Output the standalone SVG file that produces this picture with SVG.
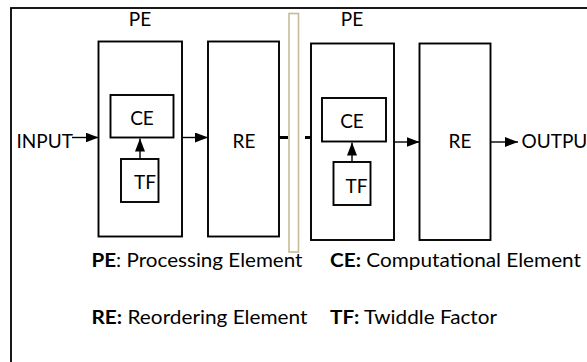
<svg xmlns="http://www.w3.org/2000/svg" width="587" height="362" viewBox="0 0 587 362">
<defs>
<marker id="ah" markerUnits="userSpaceOnUse" markerWidth="13" markerHeight="10" refX="13" refY="5" orient="auto">
<path d="M0,0 L13,5 L0,10 z" fill="#000"/>
</marker>
<style>
.box{fill:#fff;stroke:#000;stroke-width:1.9}
.t{font-family:Lato,"Open Sans","Liberation Sans",sans-serif;font-size:19px;fill:#000}
.c{text-anchor:middle}
.ln{stroke:#000;stroke-width:1.4;fill:none}
.dash{stroke:#000;stroke-width:3;fill:none}
</style>
</defs>
<rect width="587" height="362" fill="#fff"/>
<rect x="11" y="8" width="590" height="370" fill="none" stroke="#000" stroke-width="1.8"/>
<rect id="divider" x="289" y="13.5" width="9.5" height="238.5" fill="#fff" stroke="#C4BD97" stroke-width="1.6"/>

<g id="pe1">
<rect class="box" x="98.5" y="41.5" width="83.5" height="195"/>
<text class="t c" x="140" y="26">PE</text>
</g>
<g id="ce1">
<rect class="box" x="110.5" y="95" width="63" height="42.5"/>
<text class="t c" x="142" y="125">CE</text>
</g>
<g id="tf1">
<rect class="box" x="121" y="159" width="37.5" height="43"/>
<text class="t c" x="145" y="188.5">TF</text>
</g>
<g id="re1">
<rect class="box" x="208" y="41.5" width="71" height="195"/>
<text class="t c" x="244" y="147.5">RE</text>
</g>
<g id="pe2">
<rect class="box" x="311" y="43.5" width="83" height="196.5"/>
<text class="t c" x="352" y="26">PE</text>
</g>
<g id="ce2">
<rect class="box" x="322" y="98" width="64" height="43.5"/>
<text class="t c" x="352" y="128">CE</text>
</g>
<g id="tf2">
<rect class="box" x="333.5" y="162" width="37" height="43"/>
<text class="t c" x="356.5" y="192.5">TF</text>
</g>
<g id="re2">
<rect class="box" x="419.5" y="43.5" width="71" height="196.5"/>
<text class="t c" x="460" y="147.5">RE</text>
</g>
<g id="input"><text class="t" x="16.5" y="147.5">INPUT</text></g>
<g id="output"><text class="t" x="521.5" y="148">OUTPUT</text></g>

<g id="connectors">
<line class="ln" x1="72" y1="137.5" x2="98.5" y2="137.5" marker-end="url(#ah)"/>
<line class="ln" x1="182" y1="137.5" x2="208" y2="137.5" marker-end="url(#ah)"/>
<line class="ln" x1="140" y1="159" x2="140" y2="138.5" marker-end="url(#ah)"/>
<line class="dash" x1="279" y1="137.5" x2="288" y2="137.5"/>
<line class="dash" x1="305" y1="137.5" x2="311" y2="137.5"/>
<line class="ln" x1="394" y1="142" x2="419.5" y2="142" marker-end="url(#ah)"/>
<line class="ln" x1="352" y1="162" x2="352" y2="142.5" marker-end="url(#ah)"/>
<line class="ln" x1="490.5" y1="142" x2="518" y2="142" marker-end="url(#ah)"/>
</g>

<g id="legend">
<text class="t" x="91.5" y="266.5" textLength="211" lengthAdjust="spacingAndGlyphs"><tspan font-weight="bold">PE</tspan>: Processing Element</text>
<text class="t" x="330" y="266.5" textLength="251" lengthAdjust="spacingAndGlyphs"><tspan font-weight="bold">CE:</tspan> Computational Element</text>
<text class="t" x="91.5" y="323.5" textLength="216" lengthAdjust="spacingAndGlyphs"><tspan font-weight="bold">RE:</tspan> Reordering Element</text>
<text class="t" x="330" y="323.5" textLength="167" lengthAdjust="spacingAndGlyphs"><tspan font-weight="bold">TF:</tspan> Twiddle Factor</text>
</g>
</svg>
